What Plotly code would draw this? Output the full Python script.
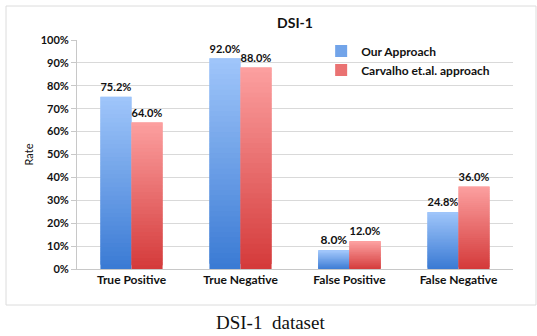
import plotly.graph_objects as go

categories = ["True Positive", "True Negative", "False Positive", "False Negative"]
our_approach = [75.2, 92.0, 8.0, 24.8]
carvalho = [64.0, 88.0, 12.0, 36.0]
series_names = ["Our Approach", "Carvalho et.al. approach"]
y_ticks = [0, 10, 20, 30, 40, 50, 60, 70, 80, 90, 100]

FONT = "Lato"
N = 40

def lerp(c1, c2, t):
    return "rgb(%d,%d,%d)" % tuple(round(a + (b - a) * t) for a, b in zip(c1, c2))

fig = go.Figure()
specs = [
    (our_approach, series_names[0], "a", (58, 122, 212), (160, 198, 250)),
    (carvalho, series_names[1], "b", (212, 58, 58), (252, 160, 160)),
]
for vals, name, grp, bottom, top in specs:
    for k in range(N):
        t = (k + 0.5) / N
        is_top = k == N - 1
        h = 1.0 if is_top else 2.0
        fig.add_trace(go.Bar(
            x=categories,
            y=[v * h / N for v in vals],
            base=[v * k / N for v in vals],
            offsetgroup=grp,
            marker=dict(color=lerp(bottom, top, t), line=dict(width=0)),
            showlegend=False,
            hoverinfo="skip",
            text=[f"{v:.1f}%" for v in vals] if is_top else None,
            textposition="outside" if is_top else None,
            textfont=dict(family=FONT, size=12, color="#111111", weight="bold"),
            cliponaxis=False,
        ))
    fig.add_trace(go.Bar(
        x=[categories[0]], y=[0], offsetgroup=grp, name=name,
        marker=dict(color=lerp(bottom, top, 0.55), line=dict(width=0)),
        showlegend=True, hoverinfo="skip",
    ))

fig.update_layout(
    width=537, height=336,
    margin=dict(l=77, r=24, t=40, b=67),
    paper_bgcolor="white", plot_bgcolor="white",
    barmode="group", bargap=0.43, bargroupgap=0,
    font=dict(family=FONT, size=11, color="#111111"),
    title=dict(text="<b>DSI-1</b>", x=0.5 * (77 + 513) / 537, xanchor="center",
               y=1 - 23 / 336, yanchor="middle", font=dict(family=FONT, size=14, color="#111111")),
    legend=dict(x=0.56, y=1.015, xanchor="left", yanchor="top", bgcolor="rgba(0,0,0,0)",
                font=dict(family=FONT, size=12, color="#111111", weight="bold"),
                itemwidth=30, tracegroupgap=0),
    showlegend=True,
)
fig.update_yaxes(
    range=[0, 100], tickvals=y_ticks, ticktext=[f"{v}%" for v in y_ticks],
    showgrid=True, gridcolor="#d9d9d9", gridwidth=1,
    showline=True, linecolor="#c8c8c8", linewidth=1,
    ticks="outside", ticklen=5, tickcolor="#c8c8c8",
    tickfont=dict(family=FONT, size=11, color="#111111", weight="bold"),
    title=dict(text="Rate", font=dict(family=FONT, size=11, color="#111111"), standoff=4),
    zeroline=False,
)
fig.update_xaxes(
    showline=True, linecolor="#c8c8c8", linewidth=1,
    ticks="", tickfont=dict(family=FONT, size=12, color="#111111", weight="bold"),
)
fig.add_shape(type="rect", xref="paper", yref="paper",
              x0=-71 / 436, x1=(536 - 77) / 436, y0=-(305 - 269) / 229, y1=(269 - 6) / 229,
              line=dict(color="#dcdcdc", width=1), fillcolor="rgba(0,0,0,0)", layer="below")
fig.add_annotation(text="DSI-1  dataset", xref="paper", yref="paper",
                   x=(270 - 77) / 436, y=-(322 - 269) / 229, xanchor="center", yanchor="middle",
                   showarrow=False, font=dict(family="Liberation Serif", size=19, color="#111111"))

fig.write_html("out.html", config={"displayModeBar": False})
with open("out.html", "r", encoding="utf-8") as f:
    html = f.read()
html = html.replace("<body>", '<body style="margin:0;padding:0;overflow:hidden">', 1)
with open("out.html", "w", encoding="utf-8") as f:
    f.write(html)
